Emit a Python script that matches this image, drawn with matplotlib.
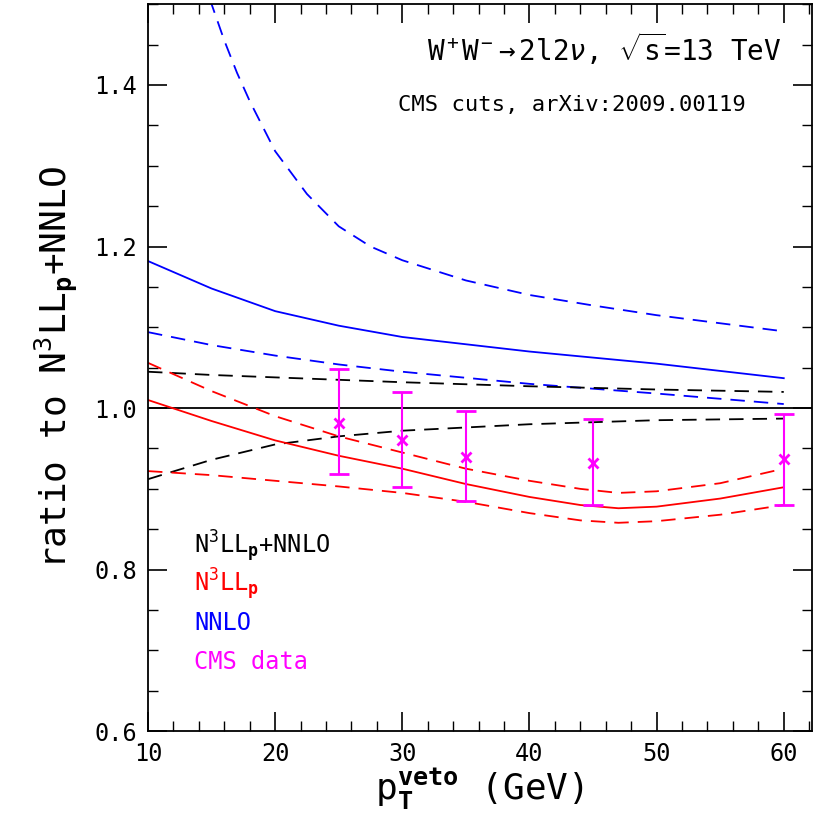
import matplotlib
matplotlib.use("Agg")
import matplotlib.pyplot as plt
from matplotlib.ticker import MultipleLocator

plt.rcParams['font.family'] = 'DejaVu Sans Mono'
plt.rcParams['mathtext.fontset'] = 'custom'
plt.rcParams['mathtext.rm'] = 'DejaVu Sans Mono'
plt.rcParams['mathtext.it'] = 'DejaVu Sans Mono:italic'
plt.rcParams['mathtext.bf'] = 'DejaVu Sans Mono:bold'

x_curve = [10, 15, 20, 25, 30, 35, 40, 44, 47, 50, 55, 60]
nnlo_up_x = [14, 15, 16, 17, 18, 20, 22.5, 25, 27.5, 30, 35, 40, 45, 50, 55, 60]
nnlo_up = [1.56, 1.5, 1.455, 1.415, 1.38, 1.318, 1.265, 1.225, 1.2, 1.183, 1.158, 1.14, 1.127, 1.115, 1.105, 1.095]
x_lin = [10, 15, 20, 25, 30, 40, 50, 60]
nnlo_c = [1.182, 1.148, 1.12, 1.102, 1.088, 1.07, 1.055, 1.037]
nnlo_lo = [1.094, 1.078, 1.065, 1.054, 1.045, 1.03, 1.018, 1.005]
res_up = [1.045, 1.041, 1.038, 1.035, 1.032, 1.027, 1.023, 1.02]
res_lo = [0.912, 0.936, 0.955, 0.965, 0.972, 0.98, 0.985, 0.987]
n3ll_c = [1.01, 0.984, 0.96, 0.941, 0.925, 0.906, 0.89, 0.88, 0.876, 0.878, 0.888, 0.902]
n3ll_up = [1.056, 1.021, 0.99, 0.965, 0.945, 0.925, 0.91, 0.9, 0.895, 0.897, 0.907, 0.925]
n3ll_lo = [0.922, 0.917, 0.91, 0.903, 0.895, 0.884, 0.87, 0.861, 0.858, 0.86, 0.868, 0.88]
cms_x = [25, 30, 35, 45, 60]
cms_y = [0.982, 0.96, 0.94, 0.932, 0.937]
cms_lo = [0.918, 0.902, 0.885, 0.88, 0.88]
cms_hi = [1.048, 1.02, 0.996, 0.986, 0.993]

fig = plt.figure(figsize=(8.15, 8.30), dpi=100)
ax = fig.add_axes([0.1816, 0.119, 0.8144, 0.876])
dash = (0, (8, 5))
ax.plot(nnlo_up_x, nnlo_up, color='blue', ls=dash, lw=1.3)
ax.plot(x_lin, nnlo_c, color='blue', lw=1.3)
ax.plot(x_lin, nnlo_lo, color='blue', ls=dash, lw=1.3)
ax.plot(x_lin, res_up, color='black', ls=dash, lw=1.3)
ax.plot(x_lin, res_lo, color='black', ls=dash, lw=1.3)
ax.axhline(1.0, color='black', lw=1.3)
ax.plot(x_curve, n3ll_c, color='red', lw=1.3)
ax.plot(x_curve, n3ll_up, color='red', ls=dash, lw=1.3)
ax.plot(x_curve, n3ll_lo, color='red', ls=dash, lw=1.3)
yerr = [[y - l for y, l in zip(cms_y, cms_lo)], [h - y for y, h in zip(cms_y, cms_hi)]]
ax.errorbar(cms_x, cms_y, yerr=yerr, fmt='x', color='magenta', ms=7, mew=2,
            capsize=7, capthick=1.5, elinewidth=1.5)

ax.set_xlim(10, 62.2)
ax.set_ylim(0.6, 1.5)
ax.xaxis.set_major_locator(MultipleLocator(10))
ax.xaxis.set_minor_locator(MultipleLocator(2))
ax.yaxis.set_major_locator(MultipleLocator(0.2))
ax.yaxis.set_minor_locator(MultipleLocator(0.05))
ax.tick_params(which='both', direction='in', top=True, right=True, labelsize=17)
ax.tick_params(which='major', length=14, width=1.2, pad=8)
ax.tick_params(which='minor', length=7, width=1.0)
ax.yaxis.set_major_formatter(matplotlib.ticker.FormatStrFormatter('%.1f'))
for s in ax.spines.values():
    s.set_linewidth(1.3)

ax.set_xlabel(r'p$_\mathbf{T}^\mathbf{veto}$ (GeV)', fontsize=26, labelpad=0)
ax.set_ylabel(r'ratio to N$^3$LL$_\mathbf{p}$+NNLO', fontsize=26, labelpad=10)

ax.text(0.955, 0.922, r'W$^+$W$^-$$\rightarrow$2l2$\nu$, $\sqrt{\rm s}$=13 TeV',
        transform=ax.transAxes, ha='right', fontsize=20)
ax.text(0.9, 0.853, 'CMS cuts, arXiv:2009.00119', transform=ax.transAxes,
        ha='right', fontsize=16)

legend_items = [(r'N$^3$LL$_\mathbf{p}$+NNLO', 'black'), (r'N$^3$LL$_\mathbf{p}$', 'red'),
                ('NNLO', 'blue'), ('CMS data', 'magenta')]
for i, (t, c) in enumerate(legend_items):
    ax.text(0.07, 0.245 - i * 0.053, t, color=c, transform=ax.transAxes, fontsize=17)

fig.savefig('out.png', dpi=100)
